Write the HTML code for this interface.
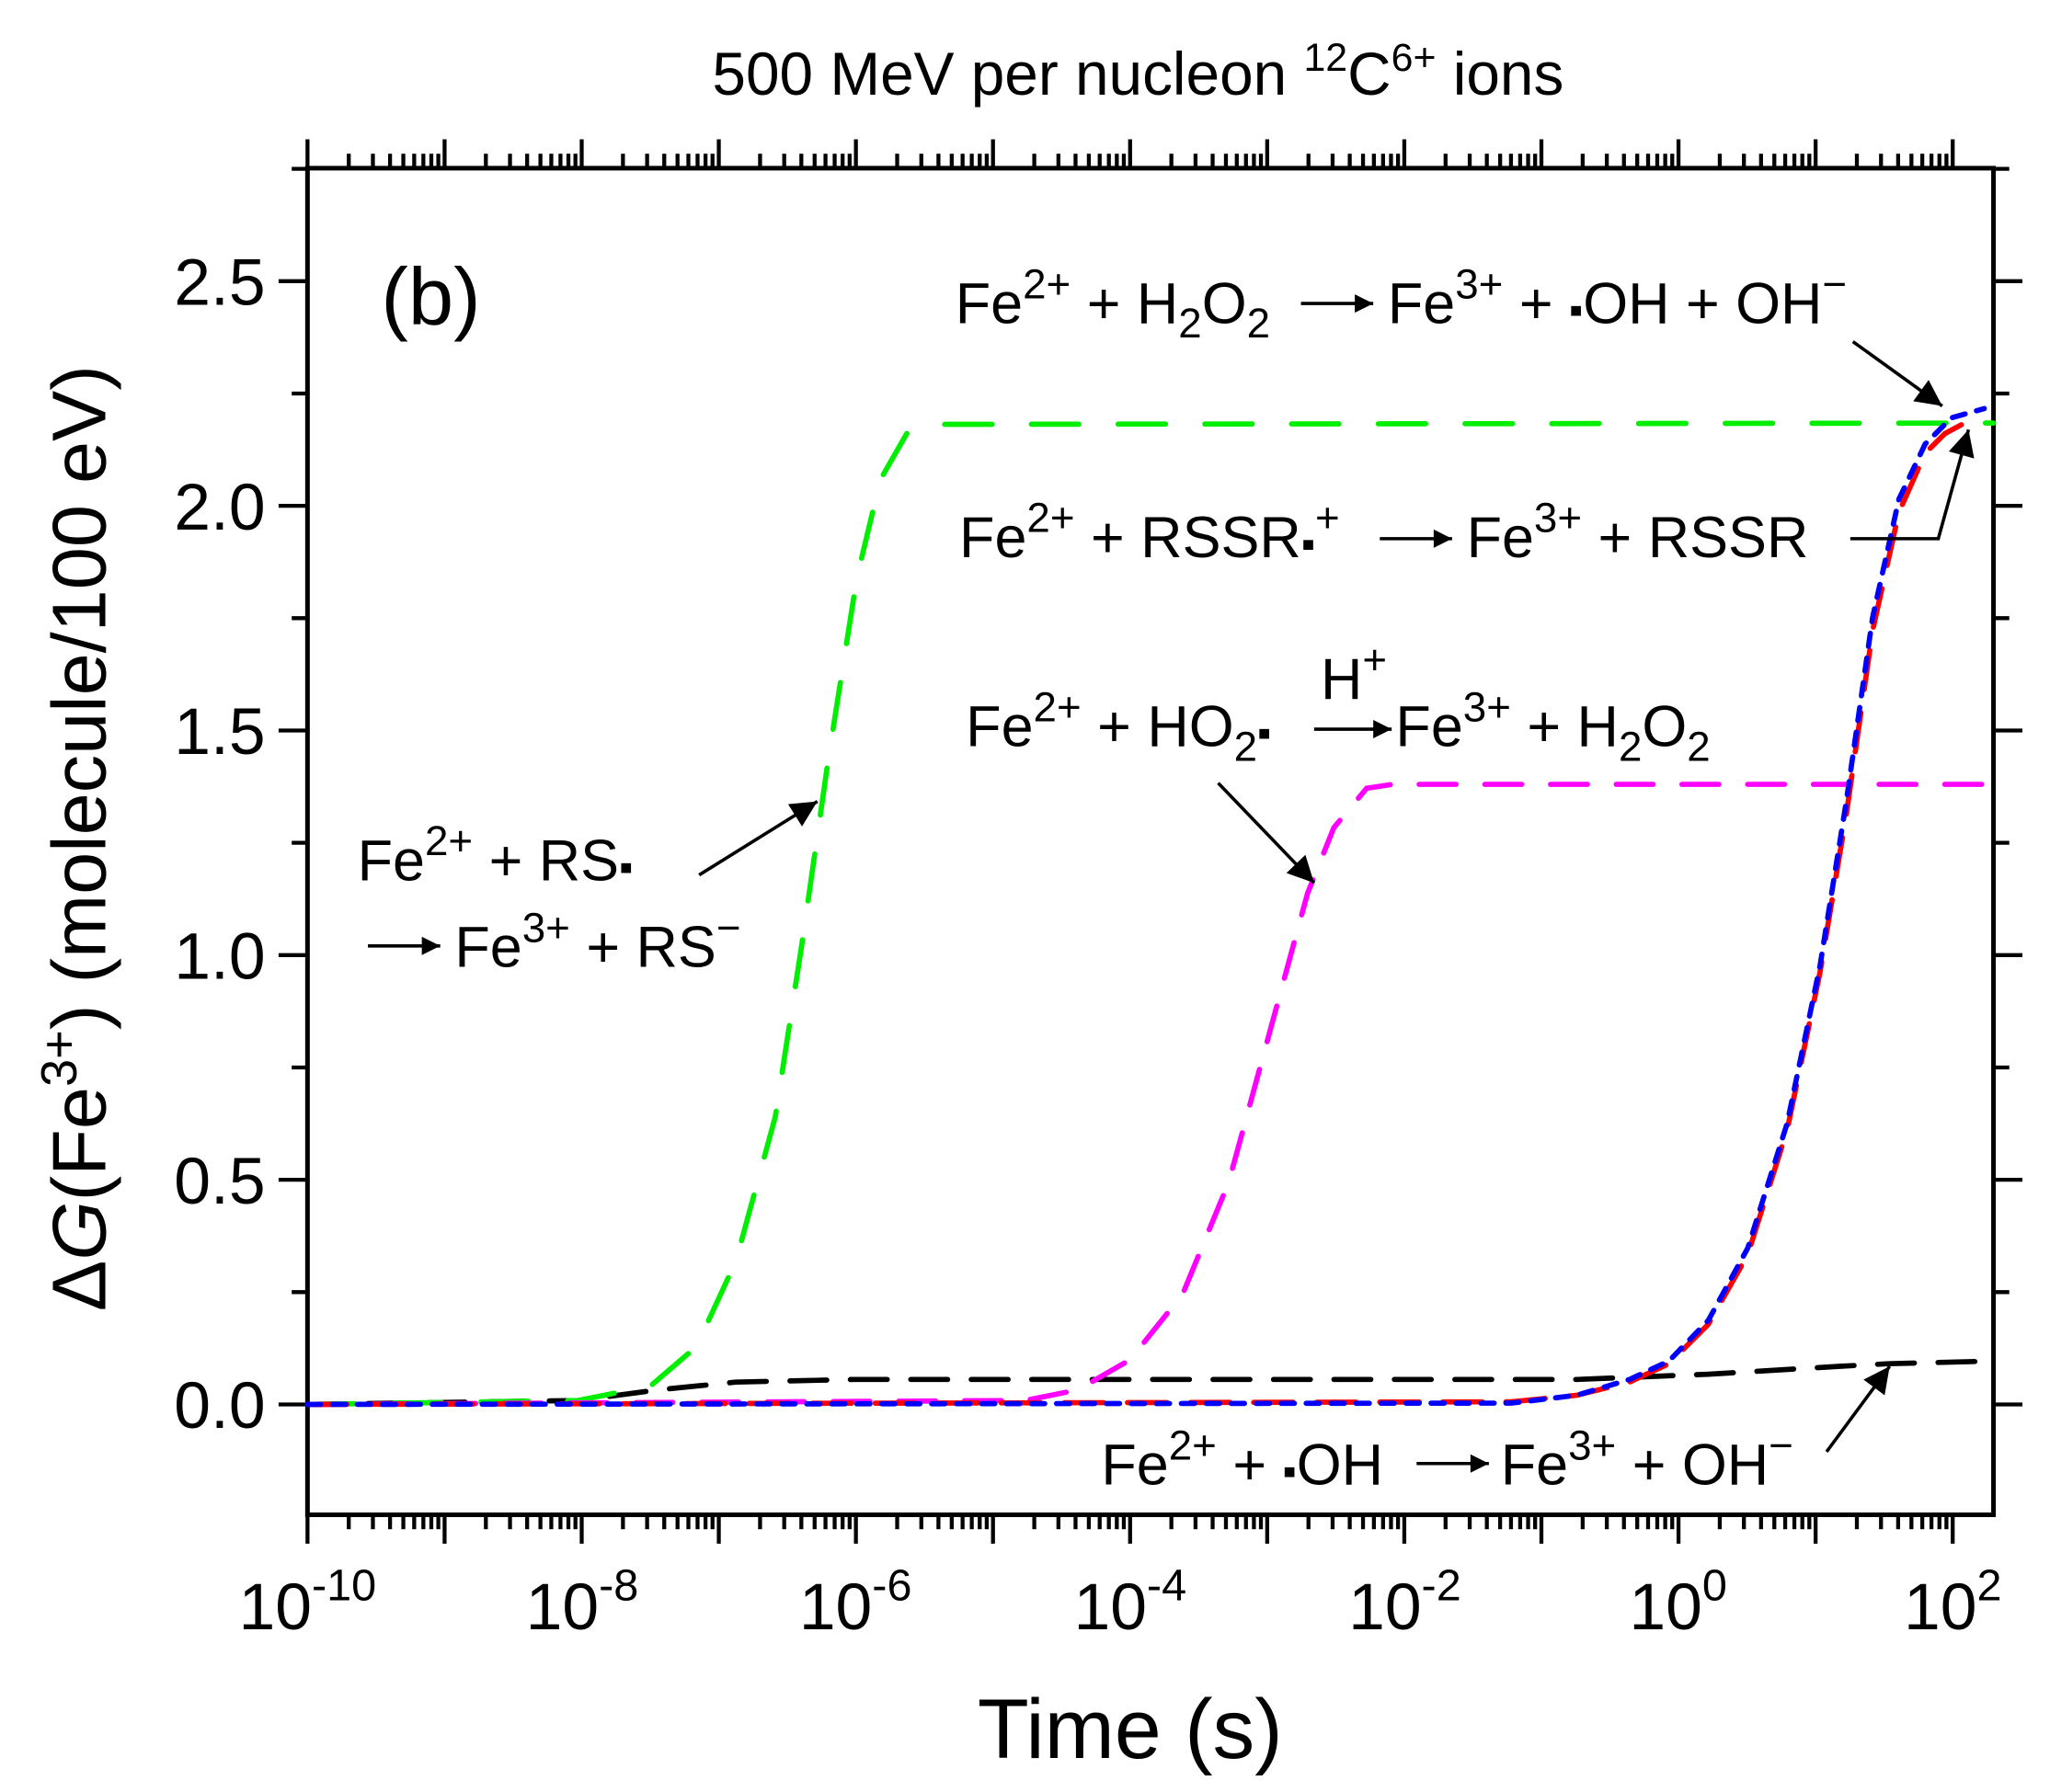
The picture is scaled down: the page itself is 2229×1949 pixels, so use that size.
<!DOCTYPE html>
<html><head><meta charset="utf-8"><style>html,body{margin:0;padding:0;background:#fff}svg{display:block}</style></head>
<body>
<svg width="2229" height="1949" viewBox="0 0 1560 1364" xmlns="http://www.w3.org/2000/svg" font-family="Liberation Sans, Arial, sans-serif">
<rect width="1560" height="1364" fill="#fff"/>
<defs>
<marker id="ah" viewBox="0 0 10 10" refX="10" refY="5" markerWidth="22" markerHeight="14" markerUnits="userSpaceOnUse" orient="auto"><path d="M0,0 L10,5 L0,10 z" fill="#000"/></marker>
<marker id="ah2" viewBox="0 0 10 10" refX="10" refY="5" markerWidth="32" markerHeight="20" markerUnits="userSpaceOnUse" orient="auto"><path d="M0,0 L10,5 L0,10 z" fill="#000"/></marker></defs>
<text x="866" y="72" font-size="46" text-anchor="middle">500 MeV per nucleon <tspan font-size="30" dy="-18">12</tspan><tspan dy="18">C</tspan><tspan font-size="30" dy="-18">6+</tspan><tspan dy="18"> ions</tspan></text>
<g stroke="#000" stroke-width="3">
<path id="tk" d=""/>
</g>
<g id="ticks" stroke="#000" stroke-width="3"></g>
<rect x="234" y="128" width="1283" height="1025" fill="none" stroke="#000" stroke-width="3.5"/>
<g font-size="50" text-anchor="end">
<text x="202" y="1087">0.0</text><text x="202" y="916">0.5</text><text x="202" y="745">1.0</text><text x="202" y="574">1.5</text><text x="202" y="403">2.0</text><text x="202" y="232">2.5</text>
</g>
<g font-size="50" text-anchor="middle">
<text x="234" y="1240">10<tspan font-size="34" dy="-22">-10</tspan></text>
<text x="443" y="1240">10<tspan font-size="34" dy="-22">-8</tspan></text>
<text x="651" y="1240">10<tspan font-size="34" dy="-22">-6</tspan></text>
<text x="860" y="1240">10<tspan font-size="34" dy="-22">-4</tspan></text>
<text x="1069" y="1240">10<tspan font-size="34" dy="-22">-2</tspan></text>
<text x="1277" y="1240">10<tspan font-size="34" dy="-22">0</tspan></text>
<text x="1486" y="1240">10<tspan font-size="34" dy="-22">2</tspan></text>
</g>
<text x="860" y="1338" font-size="64" text-anchor="middle">Time (s)</text>
<text transform="translate(80,638) rotate(-90)" font-size="58" text-anchor="middle">Δ<tspan font-style="italic">G</tspan>(Fe<tspan font-size="38" dy="-22">3+</tspan><tspan dy="22">) (molecule/100 eV)</tspan></text>
<text x="290" y="247" font-size="62">(b)</text>
<g fill="none" stroke-width="4" stroke-linecap="round">
<path stroke="#000" stroke-dasharray="28,18" d="M234,1069 L440,1066 L500,1058 L560,1052 L650,1050 L1200,1050 L1300,1046 L1400,1040 L1437,1038 L1517,1036"/>
<path stroke="#00ee00" stroke-dasharray="36,30" d="M234,1069 L440,1066 L495,1055 L530,1025 L560,960 L590,850 L610,720 L630,580 L652,440 L670,365 L690,330 L710,323 L1517,322"/>
<path stroke="#ff00ff" stroke-dasharray="28,22" d="M234,1069 L780,1066 L820,1058 L860,1035 L900,985 L935,900 L965,790 L995,680 L1015,630 L1040,600 L1060,597 L1517,597"/>
<path stroke="#ff0000" stroke-dasharray="30,18" d="M234,1069 L1150,1067 L1200,1062 L1240,1052 L1270,1038 L1300,1008 L1330,955 L1360,860 L1385,740 L1405,620 L1425,480 L1445,390 L1465,345 L1480,330 L1495,322"/>
<path stroke="#0000ff" stroke-dasharray="10,9" d="M234,1069 L1150,1068 L1200,1062 L1240,1050 L1270,1036 L1300,1005 L1330,950 L1360,855 L1385,735 L1405,610 L1425,470 L1445,380 L1465,338 L1485,318 L1510,311"/>
</g>
<g font-size="44">
<text x="727" y="246">Fe<tspan font-size="32" dy="-19">2+</tspan><tspan dy="19"> + H</tspan><tspan font-size="32" dy="11">2</tspan><tspan dy="-11">O</tspan><tspan font-size="32" dy="11">2</tspan></text>
<line x1="990" y1="231" x2="1045" y2="231" stroke="#000" stroke-width="2.5" marker-end="url(#ah)"/>
<text x="1056" y="246">Fe<tspan font-size="32" dy="-19">3+</tspan><tspan dy="19"> + </tspan><tspan font-size="30">▪</tspan><tspan>OH + OH</tspan><tspan font-size="32" dy="-19">−</tspan></text>
<line x1="1410" y1="260" x2="1478" y2="309" stroke="#000" stroke-width="2.5" marker-end="url(#ah2)"/>
<text x="730" y="424">Fe<tspan font-size="32" dy="-19">2+</tspan><tspan dy="19"> + RSSR</tspan><tspan font-size="30">▪</tspan><tspan font-size="32" dy="-19">+</tspan></text>
<line x1="1050" y1="410" x2="1105" y2="410" stroke="#000" stroke-width="2.5" marker-end="url(#ah)"/>
<text x="1116" y="424">Fe<tspan font-size="32" dy="-19">3+</tspan><tspan dy="19"> + RSSR</tspan></text>
<polyline points="1408,410 1475,410 1498,327" fill="none" stroke="#000" stroke-width="2.5" marker-end="url(#ah2)"/>
<text x="1005" y="532">H<tspan font-size="32" dy="-19">+</tspan></text>
<text x="735" y="568">Fe<tspan font-size="32" dy="-19">2+</tspan><tspan dy="19"> + HO</tspan><tspan font-size="32" dy="11">2</tspan><tspan dy="-11" font-size="30">▪</tspan></text>
<line x1="1000" y1="555" x2="1059" y2="555" stroke="#000" stroke-width="2.5" marker-end="url(#ah)"/>
<text x="1062" y="568">Fe<tspan font-size="32" dy="-19">3+</tspan><tspan dy="19"> + H</tspan><tspan font-size="32" dy="11">2</tspan><tspan dy="-11">O</tspan><tspan font-size="32" dy="11">2</tspan></text>
<line x1="927" y1="596" x2="1000" y2="672" stroke="#000" stroke-width="2.5" marker-end="url(#ah2)"/>
<text x="272" y="670">Fe<tspan font-size="32" dy="-19">2+</tspan><tspan dy="19"> + RS</tspan><tspan font-size="30">▪</tspan></text>
<line x1="532" y1="666" x2="622" y2="610" stroke="#000" stroke-width="2.5" marker-end="url(#ah2)"/>
<line x1="280" y1="720" x2="335" y2="720" stroke="#000" stroke-width="2.5" marker-end="url(#ah)"/>
<text x="346" y="736">Fe<tspan font-size="32" dy="-19">3+</tspan><tspan dy="19"> + RS</tspan><tspan font-size="32" dy="-19">−</tspan></text>
<text x="838" y="1130">Fe<tspan font-size="32" dy="-19">2+</tspan><tspan dy="19"> + </tspan><tspan font-size="30">▪</tspan><tspan>OH</tspan></text>
<line x1="1078" y1="1114" x2="1133" y2="1114" stroke="#000" stroke-width="2.5" marker-end="url(#ah)"/>
<text x="1142" y="1130">Fe<tspan font-size="32" dy="-19">3+</tspan><tspan dy="19"> + OH</tspan><tspan font-size="32" dy="-19">−</tspan></text>
<line x1="1390" y1="1105" x2="1438" y2="1040" stroke="#000" stroke-width="2.5" marker-end="url(#ah2)"/>
</g>
<script>
(function(){
var ns="http://www.w3.org/2000/svg",g=document.getElementById('ticks');
function L(x1,y1,x2,y2){var l=document.createElementNS(ns,'line');l.setAttribute('x1',x1);l.setAttribute('y1',y1);l.setAttribute('x2',x2);l.setAttribute('y2',y2);g.appendChild(l);}
var x0=234,dec=104.33;
for(var d=-10;d<=2;d++){var x=x0+(d+10)*dec;L(x,1153,x,1175);L(x,128,x,106);
 for(var m=2;m<=9;m++){var xm=x+Math.log10(m)*dec;if(xm>1517)break;L(xm,1153,xm,1164);L(xm,128,xm,117);}}
for(var i=-1;i<=11;i++){var v=i*0.25,y=1069-v*342;if(y>1153||y<128)continue;var len=(i%2==0)?22:12;L(234,y,234-len,y);L(1517,y,1517+len,y);}
})();
</script>
</svg>
</body></html>
